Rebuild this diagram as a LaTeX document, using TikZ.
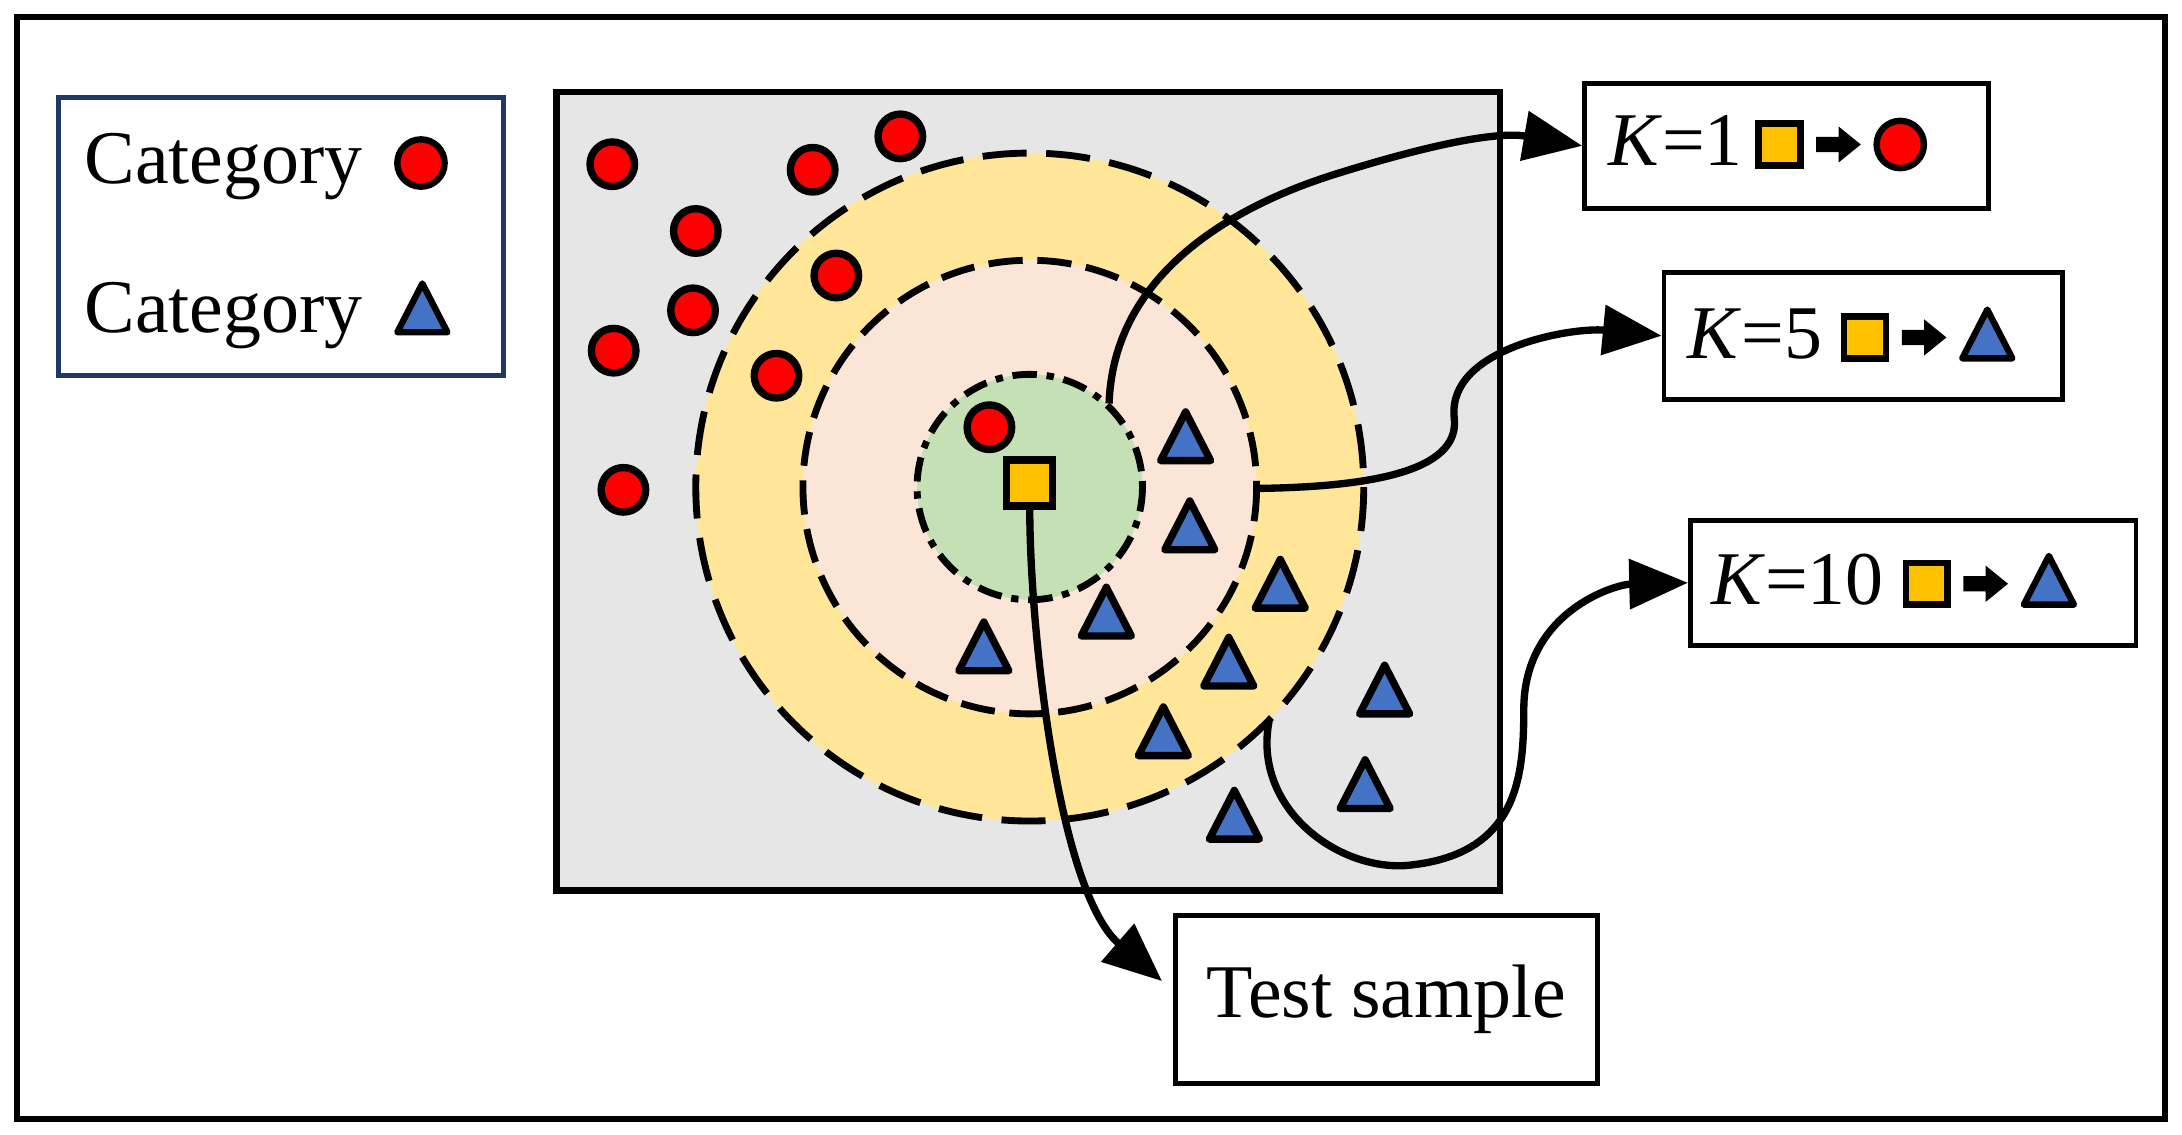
\documentclass[tikz,border=0pt]{standalone}
\usepackage{fontspec}
\setmainfont{Liberation Serif}
\usetikzlibrary{arrows.meta}
\definecolor{tri}{HTML}{4472C4}
\definecolor{sq}{HTML}{FFC000}
\definecolor{yel}{HTML}{FFE699}
\definecolor{pnk}{HTML}{FBE5D6}
\definecolor{grn}{HTML}{C5E0B4}
\definecolor{gry}{HTML}{E6E6E6}
\definecolor{nav}{HTML}{203864}
\newcommand{\redc}{\tikz[baseline=-0.6ex,x=1cm,y=1cm]\draw[line width=1.3pt,fill=red](0,0)circle(0.17);}
\newcommand{\blut}{\tikz[baseline=-0.6ex,x=1cm,y=1cm]\draw[line width=1.3pt,fill=tri,line join=round](-0.18,-0.15)--(0.18,-0.15)--(0,0.2)--cycle;}
\newcommand{\ysq}{\tikz[baseline=-0.6ex,x=1cm,y=1cm]\draw[line width=1.3pt,fill=sq](-0.15,-0.15)rectangle(0.15,0.15);}
\newcommand{\rarr}{\tikz[baseline=-0.6ex,x=1cm,y=1cm]\fill(0,-0.055)--(0.16,-0.055)--(0.16,-0.13)--(0.32,0)--(0.16,0.13)--(0.16,0.055)--(0,0.055)--cycle;}
\newcommand{\fs}{\fontsize{15.5}{18}\selectfont}
\begin{document}
\begin{tikzpicture}[x=0.01cm,y=-0.01cm,
  lbl/.style={draw,line width=1pt,fill=white,inner sep=0pt,anchor=north west},
  rc/.style={draw,line width=1.5pt,fill=red,circle,minimum size=0.32cm,inner sep=0pt},
  bt/.style={draw,line width=1.5pt,fill=tri,line join=round},
  con/.style={line width=1.5pt,-{Triangle[length=12pt,width=10pt]}}]
\useasboundingbox (0,0) rectangle (1568,815);
\draw[line width=1.3pt] (12,12) rectangle (1556,804);
\node[lbl,draw=nav,minimum width=3.2cm,minimum height=2cm] (leg) at (40,68) {};
\node[anchor=west,inner sep=0pt] (c1) at (60,120) {\fs Category\, \redc};
\node[anchor=west,inner sep=0pt] (c2) at (60,226) {\fs Category\, \blut};
\draw[line width=1.3pt,fill=gry] (400,66) rectangle (1078,640);
\draw[line width=1.4pt,fill=yel,dash pattern=on 9pt off 4pt] (740,350) circle (240);
\draw[line width=1.4pt,fill=pnk,dash pattern=on 7pt off 3pt] (740,350) circle (163);
\draw[line width=1.4pt,fill=grn,dash pattern=on 5pt off 2pt on 1.5pt off 2pt] (740,350) circle (81);
\foreach \p in {(440,118),(584,122),(647,98),(500,166),(601,198),(498,223),(441,252),(558,270),(448,352),(711,307)}
  \node[rc] at \p {};
\foreach \x/\y in {852/316,855/380,920/422,795/442,707/467,883/478,836/528,995/498,981/566,887/588}
  \draw[bt] (\x-18,\y+15)--(\x+18,\y+15)--(\x,\y-20)--cycle;
\node[draw,line width=1.5pt,fill=sq,minimum size=0.33cm,inner sep=0pt] (ts) at (740,347) {};
\node[lbl,minimum width=2.9cm,minimum height=0.9cm] (k1) at (1137,58) {};
\node[anchor=west,inner sep=0pt] at (1155,103) {\fs\textit{K}=1\,\ysq\,\rarr\,\redc};
\node[lbl,minimum width=2.86cm,minimum height=0.91cm] (k5) at (1194,194) {};
\node[anchor=west,inner sep=0pt] at (1212,240) {\fs\textit{K}=5 \ysq\,\rarr\,\blut};
\node[lbl,minimum width=3.2cm,minimum height=0.9cm] (k10) at (1213,372) {};
\node[anchor=west,inner sep=0pt] at (1229,417) {\fs\textit{K}=10 \ysq\,\rarr\,\blut};
\node[lbl,minimum width=3.03cm,minimum height=1.21cm] (tsm) at (843,656) {};
\node at (tsm.center) {\fs Test sample};
\coordinate (a1) at (797,290);
\coordinate (a5) at (903,351);
\coordinate (a10) at (912,518);
\draw[con] (a1) .. controls (800,200) and (880,150) .. (960,125) .. controls (1040,100) and (1080,95) .. (k1.west);
\draw[con] (a5) .. controls (980,350) and (1050,340) .. (1045,300) .. controls (1040,250) and (1130,235) .. (k5.west);
\draw[con] (a10) .. controls (900,580) and (960,625) .. (1010,622) .. controls (1090,615) and (1095,560) .. (1095,510) .. controls (1095,440) and (1160,420) .. (k10.west);
\draw[con] (ts.south) .. controls (740,450) and (760,640) .. (835,705);
\end{tikzpicture}
\end{document}
